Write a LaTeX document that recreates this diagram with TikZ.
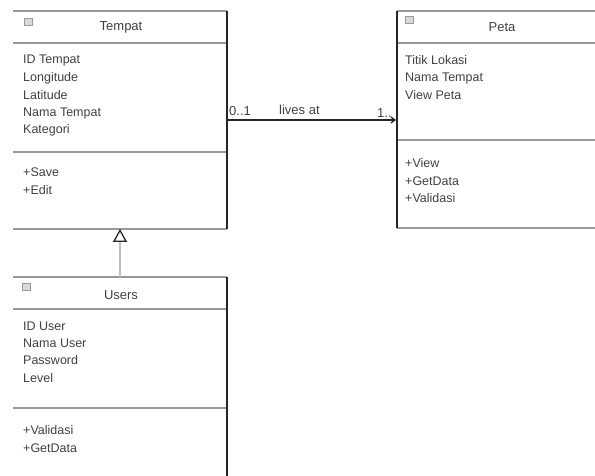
\documentclass[tikz,border=0pt]{standalone}
\usepackage{fontspec}
\setmainfont{Liberation Sans}
\usetikzlibrary{arrows.meta}
\begin{document}
\begin{tikzpicture}[x=1pt,y=-1pt,
  sepline/.style={draw=black!40,line width=1.3pt},
  edgeline/.style={draw=black!85,line width=1.3pt},
  txt/.style={anchor=west,inner sep=0pt,font=\fontsize{12.5}{14}\selectfont,text=black!75},
  ttl/.style={inner sep=0pt,font=\fontsize{13}{14}\selectfont,text=black!75},
  lbl/.style={anchor=west,inner sep=0pt,font=\fontsize{13}{14}\selectfont,text=black!75},
  icon/.style={draw=black!40,fill=black!15,minimum width=8pt,minimum height=7pt,inner sep=0pt}]
\useasboundingbox (0,0) rectangle (595,476);
% ---- Tempat
\draw[sepline] (13,11) -- (227,11);
\draw[sepline] (13,43) -- (227,43);
\draw[sepline] (13,152) -- (227,152);
\draw[sepline] (13,229) -- (227,229);
\draw[edgeline] (227,11) -- (227,229);
\node[icon] (ti) at (28,22) {};
\node[ttl] (tt) at (121,27) {Tempat};
\node[txt] (t1) at (23,60) {ID Tempat};
\node[txt] (t2) at (23,78) {Longitude};
\node[txt] (t3) at (23,95) {Latitude};
\node[txt] (t4) at (23,113) {Nama Tempat};
\node[txt] (t5) at (23,130) {Kategori};
\node[txt] (t6) at (23,172) {+Save};
\node[txt] (t7) at (23,190) {+Edit};
\coordinate (tr) at (227,120);
\coordinate (tb) at (120,229);
% ---- Peta
\draw[sepline] (397,11) -- (595,11);
\draw[sepline] (397,43) -- (595,43);
\draw[sepline] (397,140) -- (595,140);
\draw[sepline] (397,228) -- (595,228);
\draw[edgeline] (397,11) -- (397,228);
\node[icon] (pi) at (409,20) {};
\node[ttl] (pt) at (502,27) {Peta};
\node[txt] (p1) at (405,60) {Titik Lokasi};
\node[txt] (p2) at (405,78) {Nama Tempat};
\node[txt] (p3) at (405,95) {View Peta};
\node[txt] (p4) at (405,163) {+View};
\node[txt] (p5) at (405,181) {+GetData};
\node[txt] (p6) at (405,198) {+Validasi};
\coordinate (pl) at (396,120);
% ---- Users
\draw[sepline] (13,277) -- (227,277);
\draw[sepline] (13,309) -- (227,309);
\draw[sepline] (13,408) -- (227,408);
\draw[edgeline] (227,277) -- (227,476);
\node[icon] (ui) at (26,287) {};
\node[ttl] (ut) at (121,295) {Users};
\node[txt] (u1) at (23,326) {ID User};
\node[txt] (u2) at (23,343) {Nama User};
\node[txt] (u3) at (23,360) {Password};
\node[txt] (u4) at (23,378) {Level};
\node[txt] (u5) at (23,430) {+Validasi};
\node[txt] (u6) at (23,448) {+GetData};
\coordinate (ut0) at (120,277);
% ---- association
\draw[edgeline,-{Straight Barb[length=4pt,width=6pt]}] (tr) -- (pl);
\node[lbl] (m1) at (229,111) {0..1};
\node[lbl] (m2) at (279,110) {lives at};
\node[lbl] (m3) at (377,113) {1..};
% ---- generalization
\draw[draw=black!25,line width=1.3pt,-{Triangle[open,length=13pt,width=14pt,line width=1.3pt,color=black!85]}] (ut0) -- (tb);
\end{tikzpicture}
\end{document}
